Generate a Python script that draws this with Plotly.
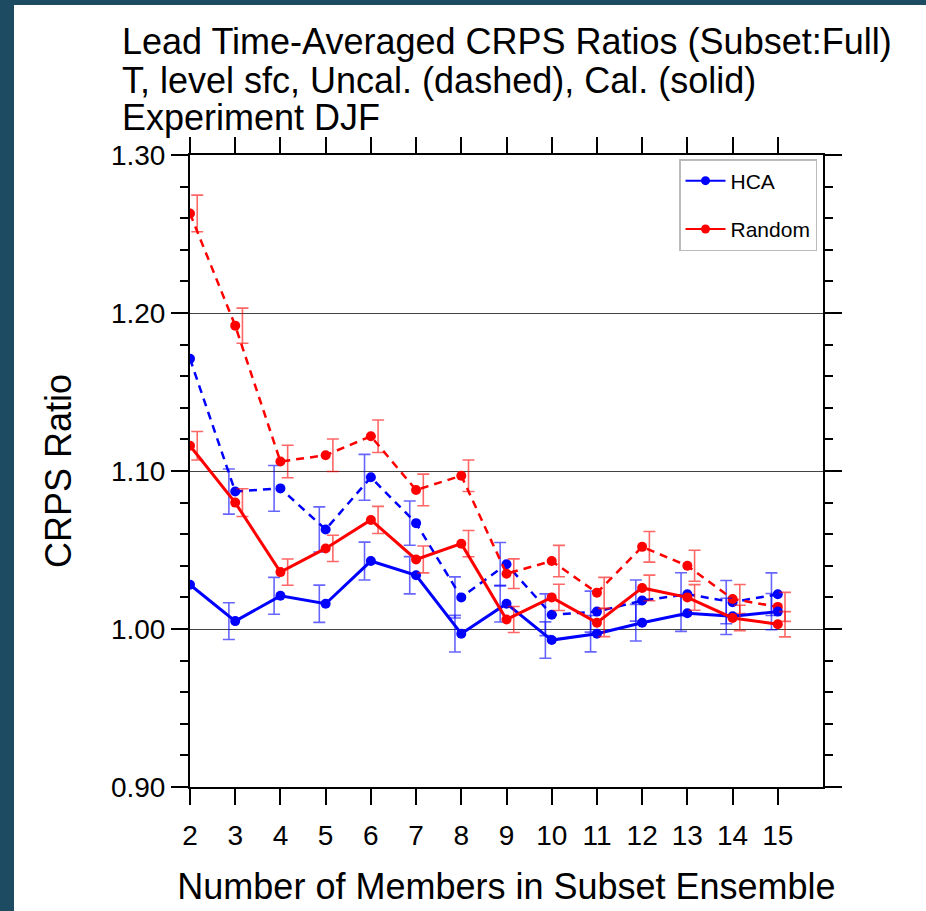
import plotly.graph_objects as go

# ---------------- data ----------------
members = [2, 3, 4, 5, 6, 7, 8, 9, 10, 11, 12, 13, 14, 15]
x_tick_labels = [str(m) for m in members]
y_tick_vals = [0.90, 1.00, 1.10, 1.20, 1.30]

hca_uncal = [1.171, 1.087, 1.089, 1.063, 1.096, 1.067, 1.020, 1.041, 1.009, 1.011, 1.018, 1.022, 1.017, 1.022]
hca_uncal_err = [0.0145, 0.0143, 0.0145, 0.0143, 0.0145, 0.0140, 0.0130, 0.0137, 0.0132, 0.0130, 0.0130, 0.0136, 0.0137, 0.0135]
hca_cal = [1.028, 1.005, 1.021, 1.016, 1.043, 1.034, 0.997, 1.016, 0.993, 0.997, 1.004, 1.010, 1.008, 1.011]
hca_cal_err = [0.0115, 0.0116, 0.0117, 0.0118, 0.0120, 0.0118, 0.0116, 0.0116, 0.0115, 0.0115, 0.0116, 0.0115, 0.0115, 0.0115]

rand_uncal = [1.263, 1.192, 1.106, 1.110, 1.122, 1.088, 1.097, 1.035, 1.043, 1.023, 1.052, 1.040, 1.019, 1.014]
rand_uncal_err = [0.0116, 0.0111, 0.0103, 0.0103, 0.0103, 0.0100, 0.0100, 0.0094, 0.0099, 0.0097, 0.0097, 0.0098, 0.0092, 0.0092]
rand_cal = [1.116, 1.080, 1.036, 1.051, 1.069, 1.044, 1.054, 1.006, 1.020, 1.004, 1.026, 1.020, 1.007, 1.003]
rand_cal_err = [0.0090, 0.0088, 0.0083, 0.0083, 0.0086, 0.0085, 0.0083, 0.0082, 0.0083, 0.0088, 0.0081, 0.0081, 0.0080, 0.0080]

title_lines = ["Lead Time-Averaged CRPS Ratios (Subset:Full)",
               "T, level sfc, Uncal. (dashed), Cal. (solid)",
               "Experiment DJF"]

# ---------------- style ----------------
W, H = 926, 911
ML, MR, MT, MB = 190, 103, 155, 124
PW, PH = W - ML - MR, H - MT - MB
FONT = "Liberation Sans, Arial, Helvetica, sans-serif"
BLUE, RED = "#0000ff", "#ff0000"
BLUE_ERR, RED_ERR = "rgba(0,0,255,0.6)", "rgba(255,0,0,0.6)"
BLUE_OFF, RED_OFF = -0.14, 0.16


def px_x(px):
    return (px - ML) / PW


def px_y(py):
    return (H - MB - py) / PH


fig = go.Figure()


def add_series(x, y, err, color, ecolor, off, dash, width):
    fig.add_trace(go.Scatter(
        x=[v + off for v in x], y=y, mode="markers",
        marker=dict(size=1, color="rgba(0,0,0,0)"),
        error_y=dict(type="data", array=err, visible=True, color=ecolor,
                     thickness=1.6, width=6),
        showlegend=False, hoverinfo="skip"))
    fig.add_trace(go.Scatter(
        x=x, y=y, mode="lines+markers",
        line=dict(color=color, width=width, dash=dash),
        marker=dict(size=10, color=color),
        showlegend=False))


add_series(members, hca_uncal, hca_uncal_err, BLUE, BLUE_ERR, BLUE_OFF, "8px,6px", 2.5)
add_series(members, rand_uncal, rand_uncal_err, RED, RED_ERR, RED_OFF, "8px,6px", 2.5)
add_series(members, hca_cal, hca_cal_err, BLUE, BLUE_ERR, BLUE_OFF, "solid", 3)
add_series(members, rand_cal, rand_cal_err, RED, RED_ERR, RED_OFF, "solid", 3)

# legend entries
fig.add_trace(go.Scatter(x=[None], y=[None], mode="lines+markers", name="HCA",
                         legendgroup="a", line=dict(color=BLUE, width=2),
                         marker=dict(size=9, color=BLUE)))
fig.add_trace(go.Scatter(x=[None], y=[None], mode="lines+markers", name="Random",
                         legendgroup="b", line=dict(color=RED, width=2),
                         marker=dict(size=9, color=RED)))

# background frame
fig.add_shape(type="rect", xref="paper", yref="paper",
              x0=px_x(0), x1=px_x(14), y0=px_y(H), y1=px_y(0),
              fillcolor="#1d4b62", line_width=0, layer="below")
fig.add_shape(type="rect", xref="paper", yref="paper",
              x0=px_x(0), x1=px_x(W), y0=px_y(5), y1=px_y(0),
              fillcolor="#1d4b62", line_width=0, layer="below")

for i, (t, yc) in enumerate(zip(title_lines, [42, 80, 118])):
    fig.add_annotation(text=t, xref="paper", yref="paper",
                       x=px_x(120), y=px_y(yc), xanchor="left", yanchor="middle",
                       showarrow=False, font=dict(family=FONT, size=36, color="black"))

axis_common = dict(showline=True, linecolor="black", linewidth=2, mirror="ticks",
                   ticks="outside", tickcolor="black", tickwidth=2,
                   tickfont=dict(family=FONT, size=28, color="black"),
                   zeroline=False)

fig.update_xaxes(range=[2, 16], tickvals=members, ticktext=x_tick_labels,
                 ticklen=16, showgrid=False, ticklabelstandoff=6,
                 title=dict(text="Number of Members in Subset Ensemble",
                            font=dict(family=FONT, size=36, color="black"), standoff=24),
                 **axis_common)
fig.update_yaxes(range=[0.9, 1.3], tickvals=y_tick_vals, tickformat=".2f",
                 ticklen=17, showgrid=True, gridcolor="#444444", gridwidth=1,
                 minor=dict(dtick=0.02, ticks="outside", ticklen=8, tickwidth=1.5,
                            tickcolor="black", showgrid=False),
                 title=dict(text="CRPS Ratio",
                            font=dict(family=FONT, size=36, color="black"), standoff=28),
                 **axis_common)

fig.update_layout(
    width=W, height=H,
    margin=dict(l=ML, r=MR, t=MT, b=MB, pad=0),
    paper_bgcolor="white", plot_bgcolor="white",
    showlegend=True,
    legend=dict(x=px_x(679), y=px_y(159), xanchor="left", yanchor="top",
                bgcolor="white", bordercolor="#bbbbbb", borderwidth=1.5,
                font=dict(family=FONT, size=21, color="black"),
                traceorder="grouped", tracegroupgap=18, itemwidth=40),
)

fig.write_html("out.html")
